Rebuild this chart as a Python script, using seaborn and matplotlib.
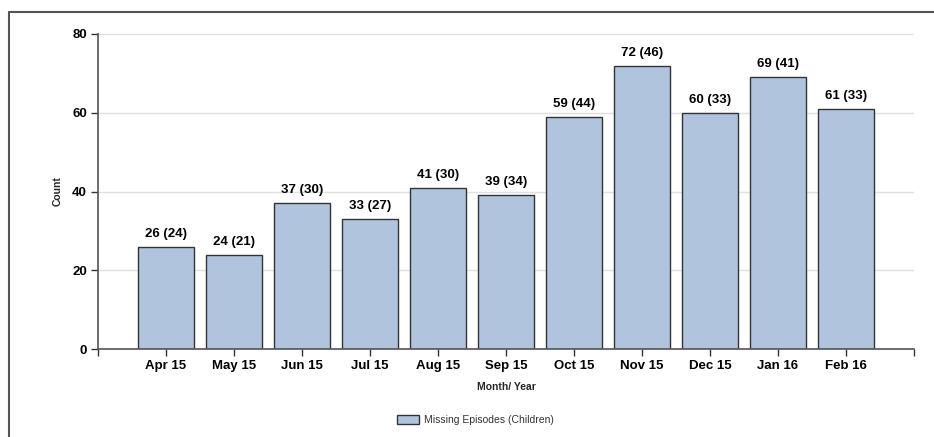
import matplotlib
matplotlib.use("Agg")
import matplotlib.pyplot as plt
from matplotlib.lines import Line2D
from matplotlib.patches import Patch
import seaborn as sns
import pandas as pd

months = ["Apr 15", "May 15", "Jun 15", "Jul 15", "Aug 15", "Sep 15",
          "Oct 15", "Nov 15", "Dec 15", "Jan 16", "Feb 16"]
episodes = [26, 24, 37, 33, 41, 39, 59, 72, 60, 69, 61]
children = [24, 21, 30, 27, 30, 34, 44, 46, 33, 41, 33]
y_ticks = [0, 20, 40, 60, 80]

sns.set_theme(style="white")
plt.rcParams["font.family"] = ["Liberation Sans", "DejaVu Sans"]

W, H = 934, 437
fig = plt.figure(figsize=(W / 100, H / 100), dpi=100)
ax = fig.add_axes([98 / W, 1 - 349 / H, (914 - 98) / W, (349 - 34) / H])

df = pd.DataFrame({"Month": months, "Episodes": episodes})
bar_color = "#B0C4DE"
sns.barplot(data=df, x="Month", y="Episodes", color=bar_color, width=0.82,
            edgecolor="#333333", linewidth=1.0, saturation=1, ax=ax, zorder=2)

ax.set_xlim(-1, len(months))
ax.set_ylim(0, 80)
ax.set_yticks(y_ticks)
ax.set_xticks(range(-1, len(months) + 1))
ax.set_xticklabels([""] + months + [""])

ax.yaxis.grid(True, color="#e0e0e0", linewidth=1, zorder=0)
ax.set_axisbelow(True)
for side in ("top", "right"):
    ax.spines[side].set_visible(False)
for side in ("left", "bottom"):
    ax.spines[side].set_color("#555555")
    ax.spines[side].set_linewidth(1.2)

ax.tick_params(axis="both", which="both", direction="out", length=5, width=1,
               color="#333333", labelsize=9.5, pad=3, bottom=True, left=True)
for lab in ax.get_xticklabels() + ax.get_yticklabels():
    lab.set_fontweight("bold")
    lab.set_color("#000000")

ax.set_xlabel("Month/ Year", fontsize=7.5, fontweight="bold", labelpad=7)
ax.set_ylabel("Count", fontsize=7.5, fontweight="bold", labelpad=7)

for i, (v, c) in enumerate(zip(episodes, children)):
    ax.annotate(f"{v} ({c})", xy=(i, v), xytext=(0, 5), textcoords="offset points",
                ha="center", va="bottom", fontsize=9.5, fontweight="bold", color="#000000")

# frame lines along the top and left edge of the figure
fig.add_artist(Line2D([9 / W, 1], [1 - 12 / H, 1 - 12 / H], transform=fig.transFigure,
                      color="#555555", linewidth=1.5))
fig.add_artist(Line2D([9 / W, 9 / W], [0, 1 - 12 / H], transform=fig.transFigure,
                      color="#555555", linewidth=1.5))

handle = Patch(facecolor=bar_color, edgecolor="#333333", linewidth=1.0)
leg = fig.legend([handle], ["Missing Episodes (Children)"], loc="center",
                 bbox_to_anchor=(475 / W, 1 - 420 / H), frameon=False,
                 fontsize=7.5, handlelength=2.2, handleheight=0.9, handletextpad=0.4)
for t in leg.get_texts():
    t.set_color("#333333")

fig.savefig("out.png", dpi=100)
